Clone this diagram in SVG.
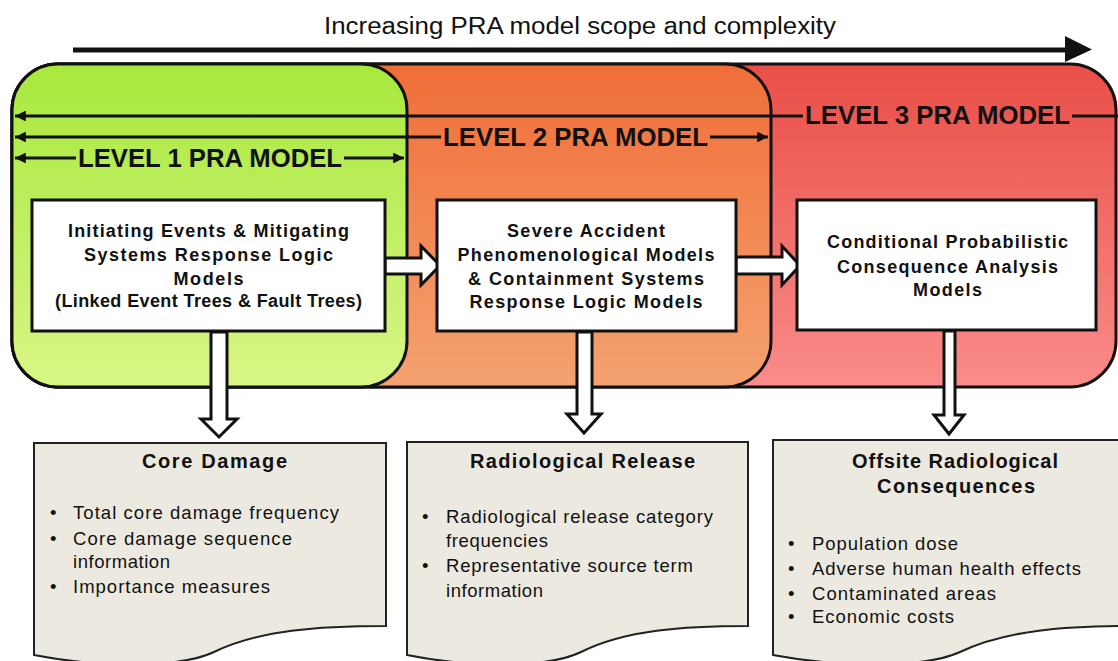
<svg xmlns="http://www.w3.org/2000/svg" width="1118" height="661" viewBox="0 0 1118 661">
<style>
text{font-family:"Liberation Sans",Arial,sans-serif;fill:#111}
.lvl{font-size:25px;font-weight:bold;text-anchor:middle}
.bx{font-size:18px;font-weight:bold;text-anchor:middle}
.dt{font-size:20px;font-weight:bold;text-anchor:middle}
.bl{font-size:18.5px}
.region{stroke:#111;stroke-width:3}
.box{fill:#fff;stroke:#111;stroke-width:3}
.doc{fill:#ece9e0;stroke:#222;stroke-width:2}
.dim{stroke:#111;stroke-width:3;fill:none}
.blk{fill:#fff;stroke:#111;stroke-width:3;stroke-linejoin:miter}
</style>
<defs>
<linearGradient id="gG" x1="0" y1="0" x2="0" y2="1"><stop offset="0" stop-color="#a8e83c"/><stop offset="1" stop-color="#d9f686"/></linearGradient>
<linearGradient id="gO" x1="0" y1="0" x2="0" y2="1"><stop offset="0" stop-color="#f06e38"/><stop offset="1" stop-color="#f4a270"/></linearGradient>
<linearGradient id="gR" x1="0" y1="0" x2="0" y2="1"><stop offset="0" stop-color="#e84f47"/><stop offset="1" stop-color="#fa8c8a"/></linearGradient>
<marker id="ah" viewBox="0 0 10 10" refX="10" refY="5" markerWidth="4" markerHeight="3.6" orient="auto-start-reverse" markerUnits="strokeWidth"><path d="M0,0 L10,5 L0,10 Z" fill="#111"/></marker>
</defs>
<rect width="1118" height="661" fill="#fff"/>

<g id="title">
<text x="580" y="34" font-size="23" text-anchor="middle" textLength="512" lengthAdjust="spacingAndGlyphs">Increasing PRA model scope and complexity</text>
<line x1="73" y1="50" x2="1068" y2="50" stroke="#111" stroke-width="5"/>
<polygon points="1065,36 1092,49.5 1065,62" fill="#111"/>
</g>

<g id="level3">
<rect class="region" x="12" y="64" width="1104" height="323" rx="46" fill="url(#gR)"/>
</g>
<g id="level2">
<rect class="region" x="12" y="64" width="759" height="323" rx="46" fill="url(#gO)"/>
</g>
<g id="level1">
<rect class="region" x="12" y="64" width="395" height="323" rx="46" fill="url(#gG)"/>
</g>

<g id="connectors">
<line class="dim" x1="15" y1="116" x2="803" y2="116" marker-start="url(#ah)"/>
<line class="dim" x1="1072" y1="116" x2="1118" y2="116"/>
<line class="dim" x1="15" y1="137" x2="441" y2="137" marker-start="url(#ah)"/>
<line class="dim" x1="710" y1="137" x2="768" y2="137" marker-end="url(#ah)"/>
<line class="dim" x1="15" y1="158" x2="76" y2="158" marker-start="url(#ah)"/>
<line class="dim" x1="344" y1="158" x2="404" y2="158" marker-end="url(#ah)"/>
<polygon class="blk" points="385,258 421,258 421,246 440,265.5 421,285 421,274 385,274"/>
<polygon class="blk" points="736,257 782,257 782,246 800,265.5 782,285 782,274 736,274"/>
<polygon class="blk" points="211,332 227,332 227,419 237,419 219,437 201,419 211,419"/>
<polygon class="blk" points="577,332 592,332 592,414 601,414 584,433 567,414 577,414"/>
<polygon class="blk" points="944,331 955,331 955,415 964,415 949,434 934,415 944,415"/>
</g>

<g id="level-labels">
<text class="lvl" x="210" y="167" textLength="264" lengthAdjust="spacingAndGlyphs">LEVEL 1 PRA MODEL</text>
<text class="lvl" x="575.5" y="146" textLength="265" lengthAdjust="spacingAndGlyphs">LEVEL 2 PRA MODEL</text>
<text class="lvl" x="937.5" y="124" textLength="265" lengthAdjust="spacingAndGlyphs">LEVEL 3 PRA MODEL</text>
</g>

<g id="box1">
<rect class="box" x="32" y="200" width="353" height="131"/>
<text class="bx" x="208.5" y="237" textLength="281">Initiating Events &amp; Mitigating</text>
<text class="bx" x="208.5" y="261" textLength="249">Systems Response Logic</text>
<text class="bx" x="208.5" y="285" textLength="70">Models</text>
<text class="bx" x="208.5" y="307" textLength="307">(Linked Event Trees &amp; Fault Trees)</text>
</g>
<g id="box2">
<rect class="box" x="437" y="200" width="299" height="131"/>
<text class="bx" x="586" y="237" textLength="158">Severe Accident</text>
<text class="bx" x="586" y="261" textLength="257">Phenomenological Models</text>
<text class="bx" x="586" y="285" textLength="236">&amp; Containment Systems</text>
<text class="bx" x="586" y="308" textLength="233">Response Logic Models</text>
</g>
<g id="box3">
<rect class="box" x="797" y="200" width="299" height="130"/>
<text class="bx" x="947.5" y="248" textLength="241">Conditional Probabilistic</text>
<text class="bx" x="947.5" y="273" textLength="221">Consequence Analysis</text>
<text class="bx" x="947.5" y="296" textLength="69">Models</text>
</g>

<g id="doc1">
<path class="doc" d="M34,443 H386 V626 C319,626 259,630 214,652 C180,668 101,668 34,655 Z"/>
<text class="dt" x="214.5" y="468" textLength="145">Core Damage</text>
<text class="bl" x="50" y="519">•</text><text class="bl" x="73" y="519" textLength="266">Total core damage frequency</text>
<text class="bl" x="50" y="545">•</text><text class="bl" x="73" y="545" textLength="219">Core damage sequence</text>
<text class="bl" x="73" y="568" textLength="97">information</text>
<text class="bl" x="50" y="593">•</text><text class="bl" x="73" y="593" textLength="197">Importance measures</text>
</g>
<g id="doc2">
<path class="doc" d="M407,442 H748 V626 C683,626 625,630 581,652 C548,668 472,668 407,655 Z"/>
<text class="dt" x="582.5" y="468" textLength="225">Radiological Release</text>
<text class="bl" x="422" y="523">•</text><text class="bl" x="446" y="523" textLength="267">Radiological release category</text>
<text class="bl" x="446" y="547" textLength="102">frequencies</text>
<text class="bl" x="422" y="572">•</text><text class="bl" x="446" y="572" textLength="247">Representative source term</text>
<text class="bl" x="446" y="597" textLength="97">information</text>
</g>
<g id="doc3">
<path class="doc" d="M773,440 H1135 V626 C1066,626 1006,630 960,652 C925,668 843,668 773,655 Z"/>
<text class="dt" x="955" y="468" textLength="206">Offsite Radiological</text>
<text class="dt" x="956" y="493" textLength="158">Consequences</text>
<text class="bl" x="788" y="550">•</text><text class="bl" x="812" y="550" textLength="146">Population dose</text>
<text class="bl" x="788" y="575">•</text><text class="bl" x="812" y="575" textLength="269">Adverse human health effects</text>
<text class="bl" x="788" y="600">•</text><text class="bl" x="812" y="600" textLength="184">Contaminated areas</text>
<text class="bl" x="788" y="623">•</text><text class="bl" x="812" y="623" textLength="142">Economic costs</text>
</g>
</svg>
